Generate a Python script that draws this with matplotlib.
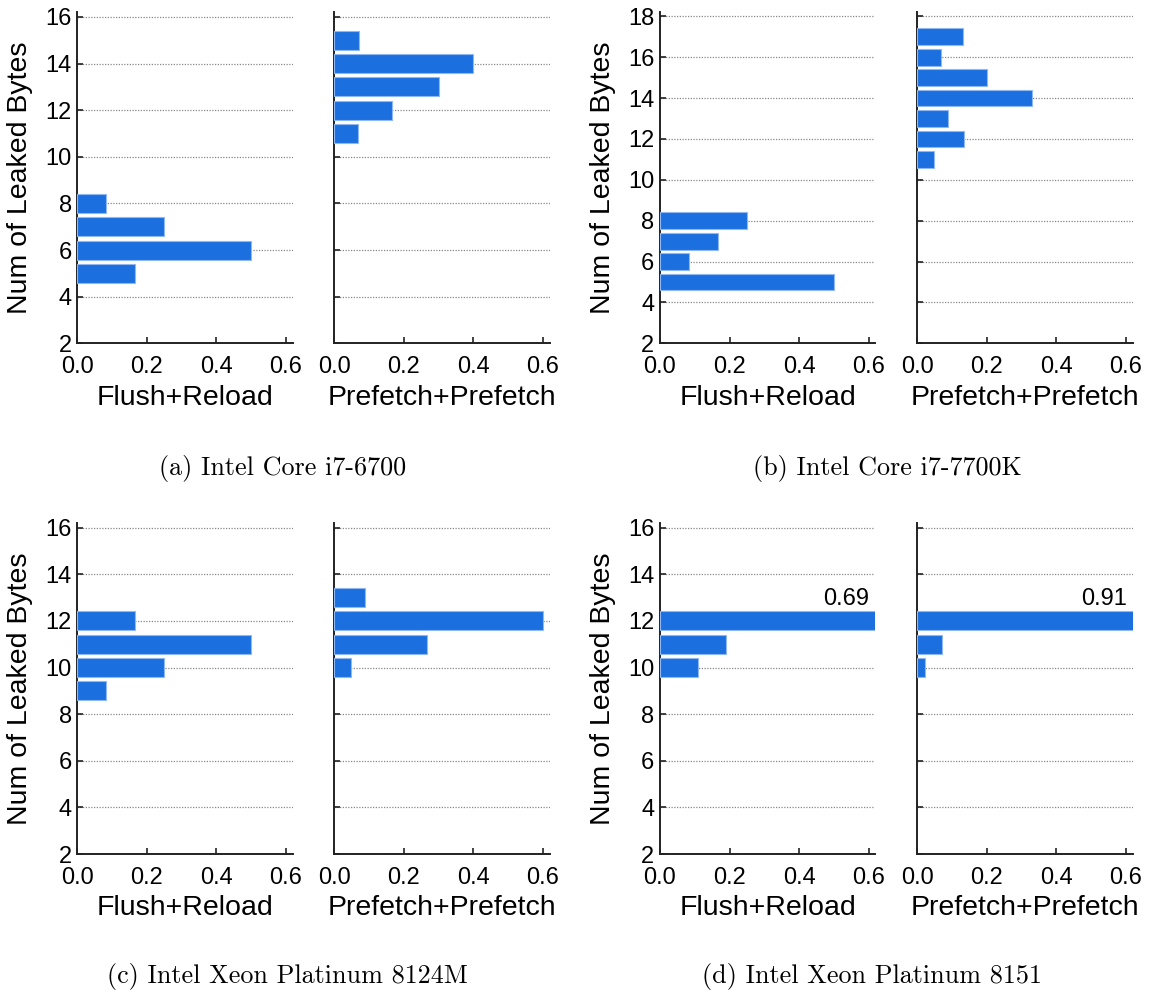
import matplotlib
matplotlib.use("Agg")
import matplotlib.pyplot as plt

plt.rcParams['font.family'] = ['Liberation Sans', 'DejaVu Sans']

# ---- data ----
panel_titles = ["(a) Intel Core i7-6700", "(b) Intel Core i7-7700K",
                "(c) Intel Xeon Platinum 8124M", "(d) Intel Xeon Platinum 8151"]
method_labels = ["Flush+Reload", "Prefetch+Prefetch"]

a_fr_bytes = [5, 6, 7, 8]
a_fr_vals = [0.167, 0.50, 0.25, 0.083]
a_pp_bytes = [11, 12, 13, 14, 15]
a_pp_vals = [0.067, 0.167, 0.30, 0.40, 0.07]

b_fr_bytes = [5, 6, 7, 8]
b_fr_vals = [0.50, 0.083, 0.167, 0.25]
b_pp_bytes = [11, 12, 13, 14, 15, 16, 17]
b_pp_vals = [0.049, 0.134, 0.09, 0.332, 0.20, 0.07, 0.132]

c_fr_bytes = [9, 10, 11, 12]
c_fr_vals = [0.083, 0.25, 0.50, 0.167]
c_pp_bytes = [10, 11, 12, 13]
c_pp_vals = [0.049, 0.268, 0.60, 0.088]

d_fr_bytes = [10, 11, 12]
d_fr_vals = [0.11, 0.19, 0.69]
d_pp_bytes = [10, 11, 12]
d_pp_vals = [0.022, 0.073, 0.91]

y_limits = [(2, 16.2), (2, 18.2), (2, 16.2), (2, 16.2)]
x_limit = 0.62

BAR = '#1b6fde'
EDGE = '#8fb8f2'

W, H = 1149, 996
fig = plt.figure(figsize=(W / 100, H / 100), dpi=100)

lefts = [77.3, 660.0]
offset = 257.0
ax_w = 215.5
row_bottom = [343.3, 854.0]
row_height = 331.0

panels = [
    ((a_fr_bytes, a_fr_vals), (a_pp_bytes, a_pp_vals)),
    ((b_fr_bytes, b_fr_vals), (b_pp_bytes, b_pp_vals)),
    ((c_fr_bytes, c_fr_vals), (c_pp_bytes, c_pp_vals)),
    ((d_fr_bytes, d_fr_vals), (d_pp_bytes, d_pp_vals)),
]
caption_pos = [(282.5, 468), (887, 468), (287.5, 976), (872, 976)]

for p, (fr, pp) in enumerate(panels):
    row, col = divmod(p, 2)
    for k, (ys, vals) in enumerate((fr, pp)):
        x0 = lefts[col] + k * offset
        yb = row_bottom[row]
        ax = fig.add_axes([x0 / W, (H - yb) / H, ax_w / W, row_height / H])
        ax.barh(ys, vals, height=0.82, color=BAR, edgecolor=EDGE, linewidth=0.8, zorder=3)
        ax.set_xlim(0, x_limit)
        ax.set_ylim(*y_limits[p])
        ymax = int(y_limits[p][1])
        ax.set_yticks(list(range(2, ymax + 1, 2)))
        ax.set_xticks([0.0, 0.2, 0.4, 0.6])
        ax.set_xticklabels(["0.0", "0.2", "0.4", "0.6"])
        ax.yaxis.grid(True, linestyle=(0, (1, 1.2)), color='#888888', linewidth=0.9, zorder=0)
        ax.set_axisbelow(True)
        for s in ('top', 'right'):
            ax.spines[s].set_visible(False)
        for s in ('left', 'bottom'):
            ax.spines[s].set_color('#222222')
            ax.spines[s].set_linewidth(1.4)
        ax.tick_params(axis='both', direction='in', length=4, width=1.2, colors='#222222',
                       labelcolor='black', labelsize=17)
        ax.tick_params(axis='x', pad=9)
        ax.tick_params(axis='y', pad=4)
        ax.set_xlabel(method_labels[k], fontsize=20.5, labelpad=5)
        if k == 0:
            ax.set_ylabel("Num of Leaked Bytes", fontsize=20.5)
            ax.yaxis.set_label_coords(-0.206, 0.5)
        else:
            ax.tick_params(axis='y', labelleft=False)
        for yv, v in zip(ys, vals):
            if v > x_limit:
                ax.text(0.603, yv + 0.68, f"{v:.2f}", ha='right', va='baseline',
                        fontsize=17, zorder=4)
    cx, cy = caption_pos[p]
    fig.text(cx / W, (H - cy) / H, panel_titles[p], ha='center', va='center',
             fontsize=18.8, family='cmr10')

fig.savefig("out.png", dpi=100)
